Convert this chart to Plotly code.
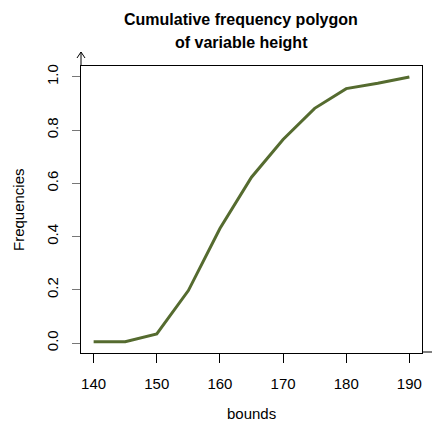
import plotly.graph_objects as go

bounds = [140, 145, 150, 155, 160, 165, 170, 175, 180, 185, 190]
cum_freq = [0.005, 0.005, 0.034, 0.197, 0.43, 0.623, 0.765, 0.882, 0.956, 0.976, 1.0]
x_ticks = [140, 150, 160, 170, 180, 190]
y_ticks = [0.0, 0.2, 0.4, 0.6, 0.8, 1.0]
y_tick_text = ["0.0", "0.2", "0.4", "0.6", "0.8", "1.0"]

FONT = "Liberation Sans, Arial, sans-serif"
W, H = 432, 426
L, R, T, B = 81, 10, 66, 73

fig = go.Figure()
fig.add_trace(go.Scatter(x=bounds, y=cum_freq, mode="lines",
                         line=dict(color="#556B2F", width=3), showlegend=False,
                         hoverinfo="skip"))

fig.update_layout(
    width=W, height=H,
    margin=dict(l=L, r=R, t=T, b=B),
    paper_bgcolor="white", plot_bgcolor="white",
    font=dict(family=FONT, size=15, color="black"),
    xaxis=dict(range=[138, 192], tickvals=x_ticks, ticks="outside", ticklen=9,
               tickcolor="black", tickwidth=1, showgrid=False, zeroline=False,
               showline=True, linecolor="black", linewidth=1, mirror=True,
               ticklabelstandoff=8, tickfont=dict(size=15, family=FONT)),
    yaxis=dict(range=[-0.0376, 1.041], tickvals=y_ticks, ticktext=y_tick_text,
               ticks="outside", ticklen=8, tickcolor="#777777", tickwidth=1,
               showgrid=False, zeroline=False, showline=True, linecolor="black",
               linewidth=1, mirror=True, tickangle=-90, ticklabelstandoff=8,
               tickfont=dict(size=15, family=FONT)),
)

pw = W - L - R
ph = H - T - B
def px(x):
    return (x - L) / pw
def py(y):
    return (H - B - y) / ph

annotations = [
    dict(text="<b>Cumulative frequency polygon</b>", x=px(241), y=py(20), xref="paper",
         yref="paper", showarrow=False, xanchor="center", yanchor="middle",
         font=dict(size=16, family=FONT)),
    dict(text="<b>of variable height</b>", x=px(241), y=py(42), xref="paper",
         yref="paper", showarrow=False, xanchor="center", yanchor="middle",
         font=dict(size=16, family=FONT)),
    dict(text="bounds", x=px(251), y=py(413), xref="paper", yref="paper",
         showarrow=False, xanchor="center", yanchor="middle", font=dict(size=15, family=FONT)),
    dict(text="Frequencies", x=px(18), y=py(210), xref="paper", yref="paper",
         showarrow=False, textangle=-90, xanchor="center", yanchor="middle",
         font=dict(size=15, family=FONT)),
]
fig.update_layout(annotations=annotations)

shapes = [
    dict(type="line", xref="paper", yref="paper", x0=px(81), y0=py(66), x1=px(81), y1=py(52),
         line=dict(color="black", width=1)),
    dict(type="path", xref="paper", yref="paper",
         path=f"M {px(77)} {py(58)} L {px(81)} {py(52)} L {px(85)} {py(58)}",
         line=dict(color="black", width=1)),
    dict(type="line", xref="paper", yref="paper", x0=px(422), y0=py(352), x1=px(433), y1=py(352),
         line=dict(color="black", width=1)),
]
fig.update_layout(shapes=shapes)

fig.write_html("out.html", config={"displayModeBar": False},
               post_script="document.body.style.margin='0';document.body.style.overflow='hidden';")
